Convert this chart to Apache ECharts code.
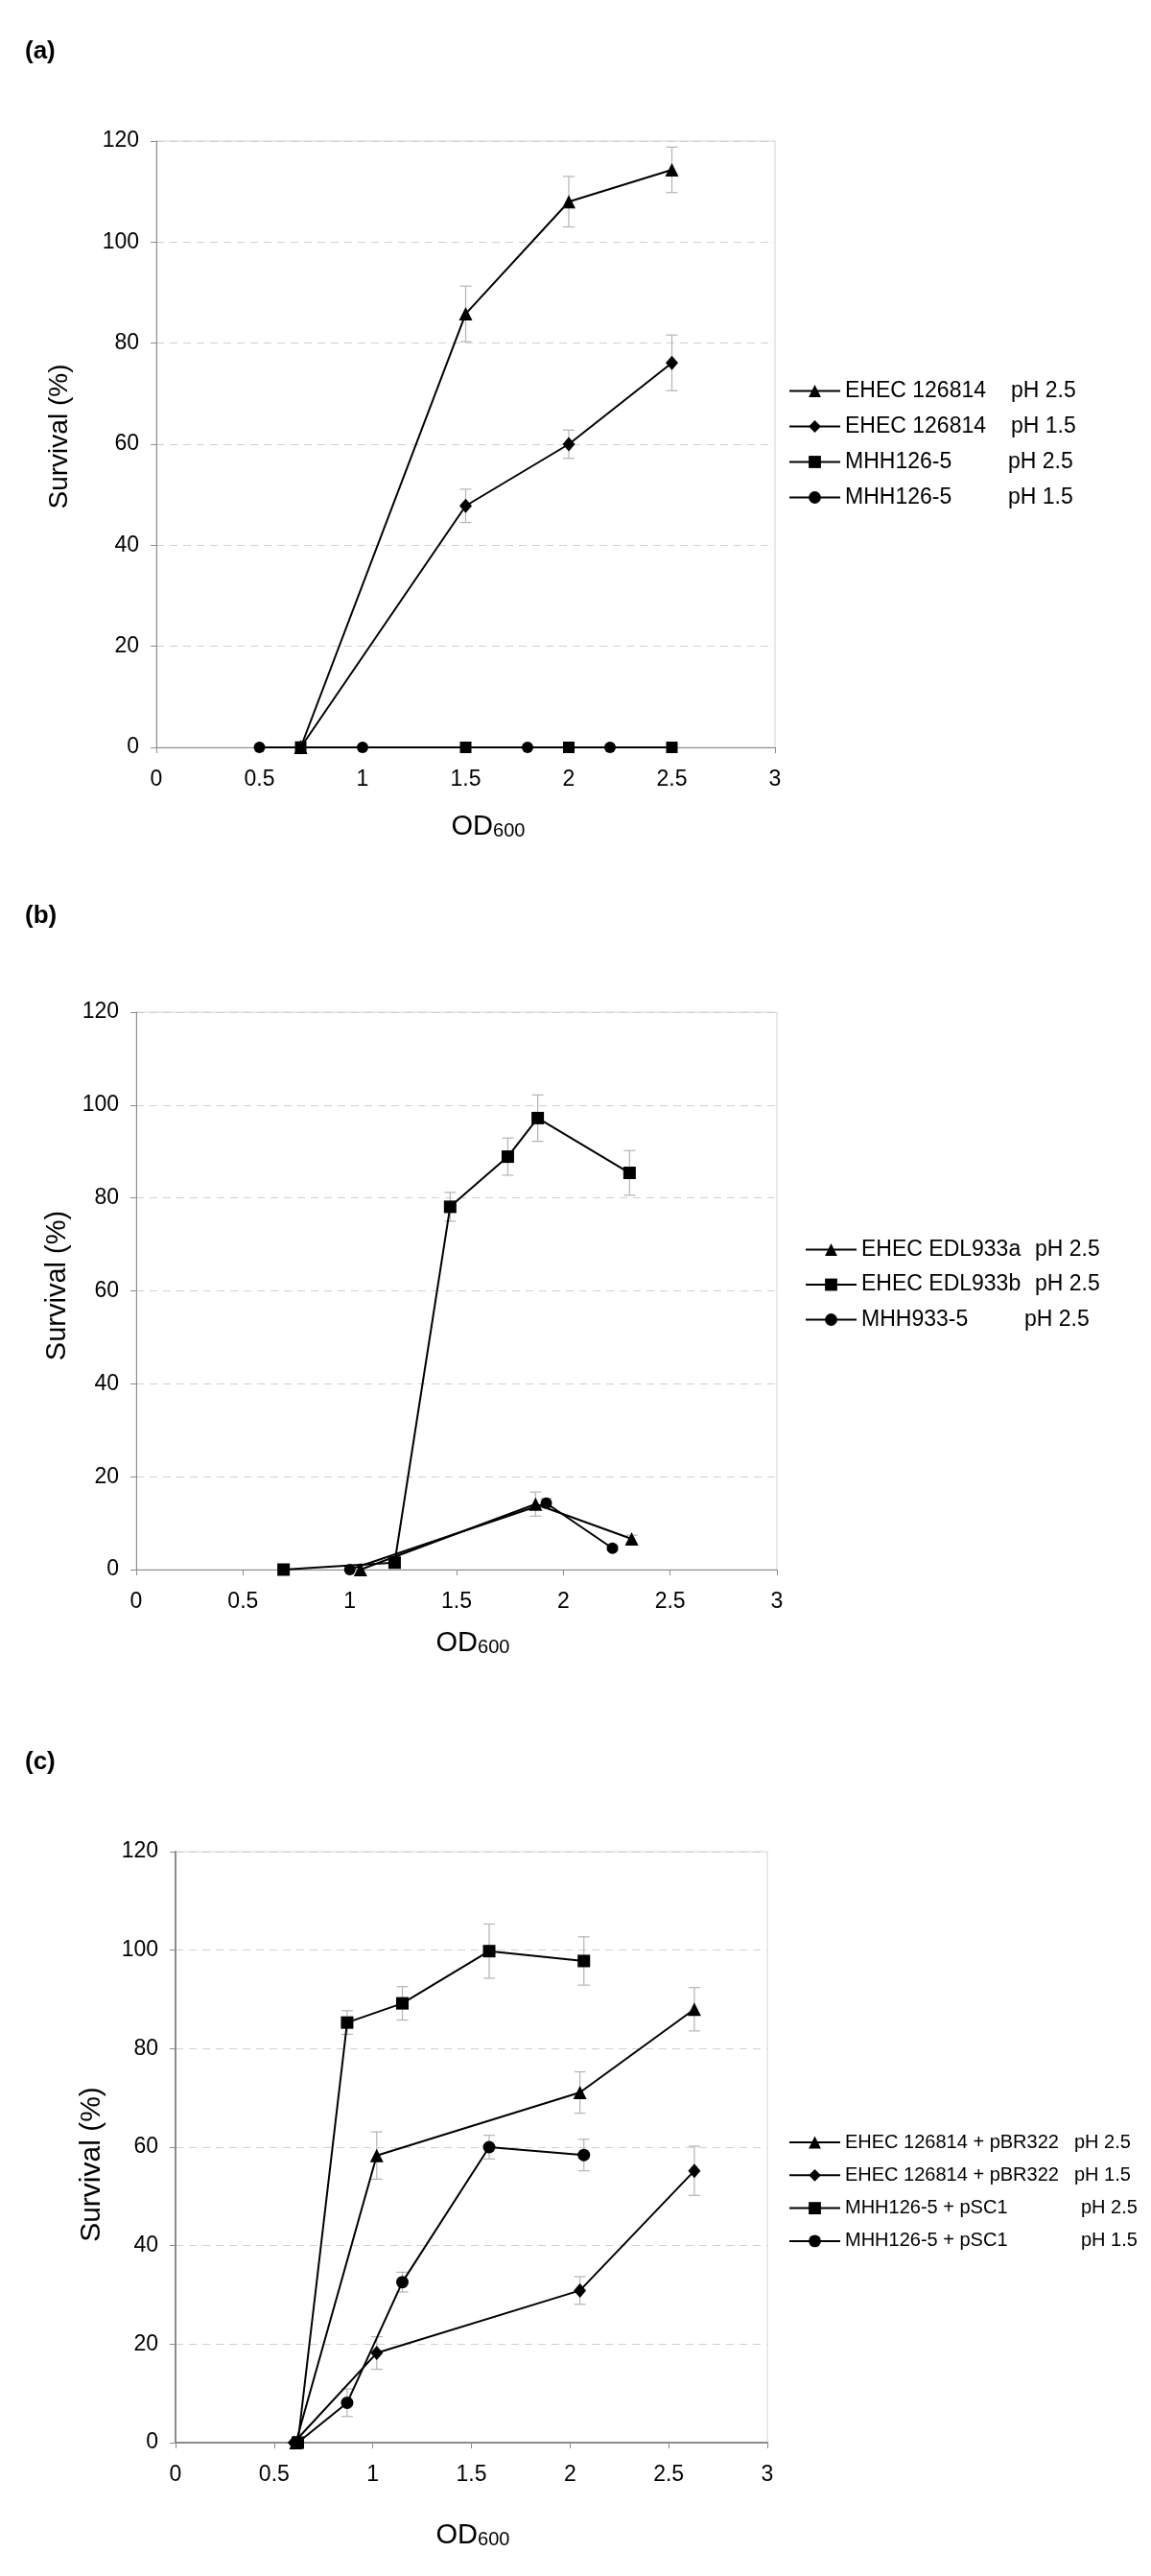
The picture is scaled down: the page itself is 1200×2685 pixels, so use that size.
<!DOCTYPE html>
<html>
<head>
<meta charset="utf-8">
<script src="https://cdn.jsdelivr.net/npm/echarts@6/dist/echarts.min.js"></script>
<style>
  html, body { margin: 0; padding: 0; background: #fff; }
  #chart { width: 1200px; height: 2685px; }
</style>
</head>
<body>
<div id="chart"></div>
<script>
// ---------- tick labels ----------
const xTickLabels = ['0', '0.5', '1', '1.5', '2', '2.5', '3'];
const yTickLabels = ['0', '20', '40', '60', '80', '100', '120'];

// ---------- panel (a) ----------
const aNames = ['EHEC 126814|pH 2.5', 'EHEC 126814|pH 1.5', 'MHH126-5|pH 2.5', 'MHH126-5|pH 1.5'];
const aEhec25X = [0.7, 1.5, 2.0, 2.5];
const aEhec25Y = [0, 85.8, 108.0, 114.3];
const aEhec25E = [1.2, 5.5, 5.0, 4.5];
const aEhec15X = [0.7, 1.5, 2.0, 2.5];
const aEhec15Y = [0, 47.8, 60.0, 76.1];
const aEhec15E = [0, 3.3, 2.8, 5.5];
const aMhh25X = [0.7, 1.5, 2.0, 2.5];
const aMhh25Y = [0, 0, 0, 0];
const aMhh15X = [0.5, 1.0, 1.8, 2.2];
const aMhh15Y = [0, 0, 0, 0];

// ---------- panel (b) ----------
const bNames = ['EHEC EDL933a|pH 2.5', 'EHEC EDL933b|pH 2.5', 'MHH933-5|pH 2.5'];
const bEdlAX = [1.05, 1.87, 2.32];
const bEdlAY = [0, 14.1, 6.6];
const bEdlAE = [0, 2.6, 0.8];
const bEdlBX = [0.69, 1.21, 1.47, 1.74, 1.88, 2.31];
const bEdlBY = [0, 1.5, 78.1, 88.9, 97.2, 85.4];
const bEdlBE = [0, 0.5, 3.1, 4.0, 5.0, 4.8];
const bMhhX = [1.0, 1.92, 2.23];
const bMhhY = [0, 14.3, 4.6];
const bMhhE = [0, 1.0, 0.5];

// ---------- panel (c) ----------
const cNames = ['EHEC 126814 + pBR322|pH 2.5', 'EHEC 126814 + pBR322|pH 1.5', 'MHH126-5 + pSC1|pH 2.5', 'MHH126-5 + pSC1|pH 1.5'];
const cEhec25X = [0.61, 1.02, 2.05, 2.63];
const cEhec25Y = [0, 58.3, 71.1, 88.0];
const cEhec25E = [0, 4.8, 4.2, 4.4];
const cEhec15X = [0.6, 1.02, 2.05, 2.63];
const cEhec15Y = [0, 18.2, 30.9, 55.2];
const cEhec15E = [0, 3.3, 2.8, 5.0];
const cMhh25X = [0.62, 0.87, 1.15, 1.59, 2.07];
const cMhh25Y = [0, 85.3, 89.2, 99.8, 97.8];
const cMhh25E = [0, 2.4, 3.4, 5.5, 4.9];
const cMhh15X = [0.62, 0.87, 1.15, 1.59, 2.07];
const cMhh15Y = [0, 8.1, 32.6, 60.0, 58.4];
const cMhh15E = [0, 2.8, 2.0, 2.4, 3.2];

// ---------- layout (not data) ----------
const FONT = '"Liberation Sans", Arial, Helvetica, sans-serif';
const panels = [
  { grid: { left: 163, top: 147, width: 645, height: 632 }, axisW: 1, tickFont: 23 },
  { grid: { left: 142, top: 1055, width: 668, height: 581 }, axisW: 1, tickFont: 23 },
  { grid: { left: 183, top: 1930, width: 617, height: 616 }, axisW: 2, tickFont: 23 }
];

const zip = (xs, ys) => xs.map((x, i) => [x, ys[i]]);
const zipErr = (xs, ys, es) => xs.map((x, i) => [x, ys[i] - es[i], ys[i] + es[i]]).filter((d, i) => es[i] > 0);

function lineSeries(name, panel, xs, ys, symbol, size) {
  return {
    type: 'line', name: name, xAxisIndex: panel, yAxisIndex: panel,
    data: zip(xs, ys), symbol: symbol, symbolSize: size,
    color: '#000',
    lineStyle: { color: '#000', width: 2 },
    itemStyle: { color: '#000' },
    z: 3, animation: false
  };
}

function errSeries(panel, xs, ys, es) {
  return {
    type: 'custom', xAxisIndex: panel, yAxisIndex: panel, z: 1, silent: true,
    data: zipErr(xs, ys, es), animation: false,
    renderItem: function (params, api) {
      const lo = api.coord([api.value(0), api.value(1)]);
      const hi = api.coord([api.value(0), api.value(2)]);
      const cap = 6;
      const st = { stroke: '#b4b4b4', lineWidth: 1.2 };
      return {
        type: 'group',
        children: [
          { type: 'line', shape: { x1: lo[0], y1: lo[1], x2: hi[0], y2: hi[1] }, style: st },
          { type: 'line', shape: { x1: lo[0] - cap, y1: lo[1], x2: lo[0] + cap, y2: lo[1] }, style: st },
          { type: 'line', shape: { x1: hi[0] - cap, y1: hi[1], x2: hi[0] + cap, y2: hi[1] }, style: st }
        ]
      };
    }
  };
}

const grids = panels.map(p => Object.assign({ show: true, borderColor: '#d4d4d4', borderWidth: 1, backgroundColor: 'transparent' }, p.grid));

const xAxes = panels.map((p, i) => ({
  type: 'value', gridIndex: i, min: 0, max: 3, interval: 0.5,
  axisLine: { show: true, onZero: false, lineStyle: { color: '#8c8c8c', width: p.axisW } },
  axisTick: { show: true, inside: false, length: 6, lineStyle: { color: '#8c8c8c', width: 1 } },
  splitLine: { show: false },
  axisLabel: {
    color: '#000', fontSize: p.tickFont, fontFamily: FONT, margin: 22,
    formatter: v => xTickLabels[Math.round(v / 0.5)]
  }
}));

const yAxes = panels.map((p, i) => ({
  type: 'value', gridIndex: i, min: 0, max: 120, interval: 20,
  axisLine: { show: true, lineStyle: { color: '#8c8c8c', width: p.axisW } },
  axisTick: { show: true, inside: false, length: 6, lineStyle: { color: '#8c8c8c', width: 1 } },
  splitLine: { show: true, lineStyle: { color: '#d0d0d0', type: [8, 6], width: 1 } },
  axisLabel: {
    color: '#000', fontSize: p.tickFont, fontFamily: FONT, margin: 18,
    formatter: v => yTickLabels[Math.round(v / 20)]
  }
}));

// legend column widths (strain text column) per row
const legendCols = [[173, 173, 170, 170], [181, 181, 170], [239, 239, 246, 246]];
const legendNames = [aNames, bNames, cNames];
function legend(i, left, top, fontSize, gap) {
  return {
    orient: 'vertical', left: left, top: top, padding: 0,
    itemWidth: 53, itemHeight: 16, itemGap: gap,
    data: legendNames[i], selectedMode: false,
    textStyle: {
      color: '#000', fontFamily: FONT, fontSize: fontSize,
      rich: {
        p: { fontFamily: FONT, fontSize: fontSize, lineHeight: 24, color: '#000' }
      }
    },
    formatter: function (name) {
      const parts = name.split('|');
      const k = legendNames[i].indexOf(name);
      return '{n' + k + '|' + parts[0] + '}{p|' + parts[1] + '}';
    }
  };
}
const legends = [legend(0, 822, 396, 23, 14), legend(1, 839, 1291, 23, 13.5), legend(2, 822, 2223, 20, 14.3)];
legends.forEach((lg, i) => {
  legendCols[i].forEach((w, k) => {
    lg.textStyle.rich['n' + k] = { fontFamily: FONT, fontSize: lg.textStyle.fontSize, lineHeight: 24, width: w, color: '#000' };
  });
});

const series = [
  errSeries(0, aEhec25X, aEhec25Y, aEhec25E),
  errSeries(0, aEhec15X, aEhec15Y, aEhec15E),
  lineSeries(aNames[0], 0, aEhec25X, aEhec25Y, 'triangle', 14),
  lineSeries(aNames[1], 0, aEhec15X, aEhec15Y, 'diamond', [13, 15]),
  lineSeries(aNames[2], 0, aMhh25X, aMhh25Y, 'rect', 12),
  lineSeries(aNames[3], 0, aMhh15X, aMhh15Y, 'circle', 12),

  errSeries(1, bEdlAX, bEdlAY, bEdlAE),
  errSeries(1, bEdlBX, bEdlBY, bEdlBE),
  errSeries(1, bMhhX, bMhhY, bMhhE),
  lineSeries(bNames[0], 1, bEdlAX, bEdlAY, 'triangle', 14),
  lineSeries(bNames[1], 1, bEdlBX, bEdlBY, 'rect', 13),
  lineSeries(bNames[2], 1, bMhhX, bMhhY, 'circle', 12),

  errSeries(2, cEhec25X, cEhec25Y, cEhec25E),
  errSeries(2, cEhec15X, cEhec15Y, cEhec15E),
  errSeries(2, cMhh25X, cMhh25Y, cMhh25E),
  errSeries(2, cMhh15X, cMhh15Y, cMhh15E),
  lineSeries(cNames[0], 2, cEhec25X, cEhec25Y, 'triangle', 14),
  lineSeries(cNames[1], 2, cEhec15X, cEhec15Y, 'diamond', [13, 15]),
  lineSeries(cNames[2], 2, cMhh25X, cMhh25Y, 'rect', 13),
  lineSeries(cNames[3], 2, cMhh15X, cMhh15Y, 'circle', 13)
];

function panelLabel(txt, y) {
  return { type: 'text', x: 26, y: y, style: { text: txt, font: 'bold 26px ' + FONT, fill: '#000', textVerticalAlign: 'middle' } };
}
function yTitle(x, y, size) {
  return { type: 'text', x: x, y: y, rotation: Math.PI / 2,
    style: { text: 'Survival (%)', font: size + 'px ' + FONT, fill: '#000', textAlign: 'center', textVerticalAlign: 'middle' } };
}
function xTitle(x, y) {
  return { type: 'text', x: x, y: y,
    style: {
      text: '{a|OD}{s|600}', textAlign: 'center', textVerticalAlign: 'middle',
      rich: {
        a: { fontFamily: FONT, fontSize: 29, fill: '#000', color: '#000', lineHeight: 34, verticalAlign: 'bottom' },
        s: { fontFamily: FONT, fontSize: 20, fill: '#000', color: '#000', lineHeight: 30, verticalAlign: 'bottom', padding: [8, 0, 0, 0] }
      }
    } };
}

const option = {
  animation: false,
  backgroundColor: '#fff',
  grid: grids,
  xAxis: xAxes,
  yAxis: yAxes,
  legend: legends,
  series: series,
  graphic: [
    panelLabel('(a)', 54), panelLabel('(b)', 955), panelLabel('(c)', 1837),
    yTitle(62, 455, 28), yTitle(60, 1340, 29), yTitle(96, 2256, 30),
    xTitle(509, 859), xTitle(493, 1710), xTitle(493, 2640)
  ]
};

const chart = echarts.init(document.getElementById('chart'), null, { renderer: 'canvas' });
chart.setOption(option);
</script>
</body>
</html>
